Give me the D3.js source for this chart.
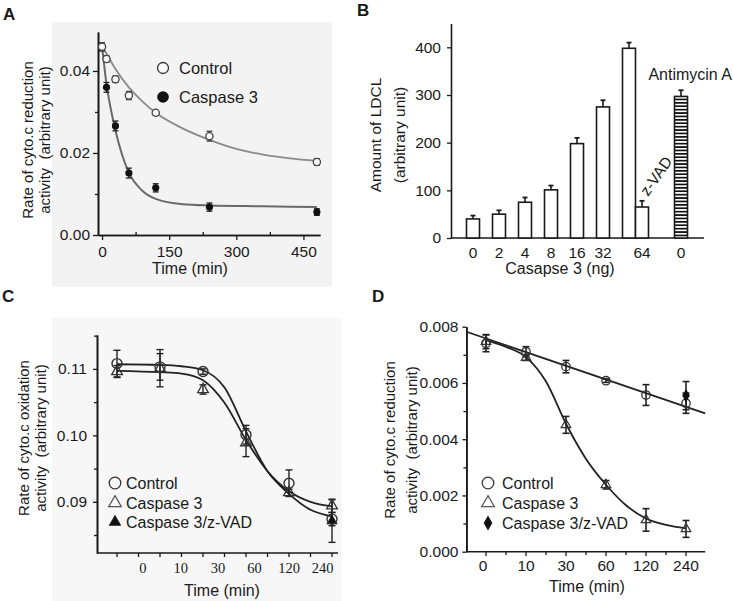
<!DOCTYPE html>
<html><head><meta charset="utf-8">
<script src="https://cdn.jsdelivr.net/npm/d3@7"></script>
<style>
body{margin:0;background:#fff}
svg{display:block;font-family:"Liberation Sans",Arial,sans-serif}
text{white-space:pre}
</style>
</head><body><script>
// ---------------- Panel A data ----------------
const timeA = [0, 10, 30, 60, 120, 240, 480];
const controlA = [0.0459, 0.0429, 0.0380, 0.0340, 0.0298, 0.0241, 0.0178];
const controlAErr = [0.0010, 0.0008, 0.0008, 0.0010, 0.0005, 0.0012, 0.0008];
const caspaseA = [0.0459, 0.0360, 0.0266, 0.0151, 0.0115, 0.0068, 0.0056];
const caspaseAErr = [0.0010, 0.0012, 0.0012, 0.0012, 0.0010, 0.0010, 0.0008];
const controlFitT = [0, 30, 60, 90, 120, 180, 240, 300, 360, 420, 480];
const controlFitA = [0.0462, 0.0405, 0.0360, 0.0326, 0.0298, 0.0260, 0.0232, 0.0210, 0.0196, 0.0187, 0.0181];
const caspaseFitT = [0, 10, 20, 30, 45, 60, 90, 120, 180, 240, 360, 480];
const caspaseFitA = [0.0462, 0.0368, 0.0305, 0.0255, 0.0195, 0.0152, 0.0108, 0.0088, 0.0075, 0.0072, 0.0070, 0.0068];
const xTicksA = [0, 150, 300, 450];
const yTicksA = [0, 0.02, 0.04];

// ---------------- Panel B data ----------------
const barNames = ["0", "2", "4", "8", "16", "32", "64", "z-VAD", "Antimycin A"];
const barValues = [40, 50, 75, 101, 198, 275, 398, 65, 297];
const barErrors = [7, 8, 10, 9, 12, 14, 12, 13, 13];
const doseLabels = ["0", "2", "4", "8", "16", "32", "64", "0"];
const yTicksB = [0, 100, 200, 300, 400];

// ---------------- Panel C data ----------------
const timeLabelsC = ["0", "10", "30", "60", "120", "240"];
const controlC = [0.1108, 0.1103, 0.1096, 0.1001, 0.0928, 0.0874];
const controlCErr = [0.0020, 0.0020, 0.0004, 0.0014, 0.0020, 0.0010];
const caspaseC = [0.1096, 0.1101, 0.1069, 0.0989, 0.0914, 0.0894];
const caspaseCErr = [0.0009, 0.0028, 0.0007, 0.0021, 0.0005, 0.0010];
const zvadCIndex = [5];
const zvadC = [0.0871];
const zvadCErr = [0.0032];
const controlFitCIdx = [0, 1, 1.5, 2, 2.5, 3, 3.5, 4, 4.5, 5];
const controlFitC = [0.1107, 0.1106, 0.1104, 0.1098, 0.1072, 0.1006, 0.0946, 0.0912, 0.0888, 0.0878];
const caspaseFitC = [0.1097, 0.1095, 0.1093, 0.1083, 0.1049, 0.0993, 0.0946, 0.0916, 0.0900, 0.0893];
const yTicksC = [0.09, 0.10, 0.11];

// ---------------- Panel D data ----------------
const timeLabelsD = ["0", "10", "30", "60", "120", "240"];
const controlD = [0.00741, 0.00711, 0.00658, 0.00608, 0.00557, 0.00528];
const controlDErr = [0.00030, 0.00018, 0.00022, 0.00006, 0.00037, 0.00036];
const caspaseD = [0.00747, 0.00690, 0.00451, 0.00238, 0.00113, 0.00081];
const caspaseDErr = [0.00025, 0.00010, 0.00030, 0.00015, 0.00040, 0.00030];
const zvadDIndex = [5];
const zvadD = [0.00555];
const zvadDErr = [0.00050];
const controlLineDIdx = [-0.49, 5.48];
const controlLineD = [0.00782, 0.00492];
const caspaseFitDIdx = [0, 0.5, 1, 1.5, 2, 2.5, 3, 3.5, 4, 4.5, 5];
const caspaseFitD = [0.00752, 0.00728, 0.00692, 0.00605, 0.00455, 0.00330, 0.00238, 0.00165, 0.00118, 0.00095, 0.00083];
const yTicksD = [0, 0.002, 0.004, 0.006, 0.008];

// ---------------- drawing ----------------
const INK = "#1a1a1a";
const svg = d3.select("body").append("svg").attr("width", 733).attr("height", 601);
svg.append("rect").attr("width", 733).attr("height", 601).attr("fill", "#fff");

function styleAxis(g, size, family) {
  g.select(".domain").attr("stroke", INK).attr("stroke-width", 1.6);
  g.selectAll(".tick line").attr("stroke", INK).attr("stroke-width", 1.3);
  g.selectAll(".tick text").attr("fill", INK).attr("font-size", size)
    .attr("font-family", family || "Liberation Sans, Arial, sans-serif");
}
function errBar(g, x, y0, y1, cap, color, w) {
  g.append("line").attr("x1", x).attr("x2", x).attr("y1", y0).attr("y2", y1)
    .attr("stroke", color).attr("stroke-width", w);
  [y0, y1].forEach(y => g.append("line").attr("x1", x - cap).attr("x2", x + cap)
    .attr("y1", y).attr("y2", y).attr("stroke", color).attr("stroke-width", w));
}
function yTitle(g, x, y, text, size) {
  g.append("text").attr("transform", `translate(${x},${y}) rotate(-90)`)
    .attr("text-anchor", "middle").attr("dy", "0.35em").attr("font-size", size)
    .attr("fill", INK).text(text);
}
function label(g, x, y, text, size, anchor, weight) {
  return g.append("text").attr("x", x).attr("y", y).attr("font-size", size)
    .attr("text-anchor", anchor || "start").attr("font-weight", weight || "normal")
    .attr("fill", INK).text(text);
}
const sym = (type, size) => d3.symbol().type(type).size(size)();

// ===== Panel A =====
const gA = svg.append("g");
gA.append("rect").attr("x", 52).attr("y", 22).attr("width", 280).attr("height", 265).attr("fill", "#f3f3f3");
const xA = d3.scaleLinear().domain([-9, 487]).range([98, 320]);
const yA = d3.scaleLinear().domain([0, 0.0495]).range([235, 32]);
gA.append("g").attr("transform", "translate(0,235)")
  .call(d3.axisBottom(xA).tickValues([75, 225, 375]).tickSizeInner(-3).tickSizeOuter(0).tickFormat(""))
  .call(g => styleAxis(g, 15.5));
gA.append("g").attr("transform", "translate(0,235)")
  .call(d3.axisBottom(xA).tickValues(xTicksA).tickSizeInner(5).tickSizeOuter(0).tickPadding(6).tickFormat(d3.format("d")))
  .call(g => styleAxis(g, 15.5));
gA.append("g").attr("transform", "translate(98,0)")
  .call(d3.axisLeft(yA).tickValues([0.01, 0.03]).tickSizeInner(3).tickSizeOuter(0).tickFormat(""))
  .call(g => styleAxis(g, 15.5));
gA.append("g").attr("transform", "translate(98,0)")
  .call(d3.axisLeft(yA).tickValues(yTicksA).tickSizeInner(5).tickSizeOuter(0).tickPadding(3).tickFormat(d3.format(".2f")))
  .call(g => styleAxis(g, 15.5));
const lineA = d3.line().x(d => xA(d[0])).y(d => yA(d[1])).curve(d3.curveMonotoneX);
gA.append("path").attr("d", lineA(controlFitT.map((t, i) => [t, controlFitA[i]])))
  .attr("fill", "none").attr("stroke", "#8a8a8a").attr("stroke-width", 1.8);
gA.append("path").attr("d", lineA(caspaseFitT.map((t, i) => [t, caspaseFitA[i]])))
  .attr("fill", "none").attr("stroke", "#6a6a6a").attr("stroke-width", 2);
timeA.forEach((t, i) => {
  errBar(gA, xA(t), yA(caspaseA[i] - caspaseAErr[i]), yA(caspaseA[i] + caspaseAErr[i]), 3, "#222", 1.3);
  gA.append("circle").attr("cx", xA(t)).attr("cy", yA(caspaseA[i])).attr("r", 3.6).attr("fill", "#111");
});
timeA.forEach((t, i) => {
  errBar(gA, xA(t), yA(controlA[i] - controlAErr[i]), yA(controlA[i] + controlAErr[i]), 3, "#444", 1.3);
  gA.append("circle").attr("cx", xA(t)).attr("cy", yA(controlA[i])).attr("r", 3.6)
    .attr("fill", "#fafafa").attr("stroke", "#444").attr("stroke-width", 1.3);
});
gA.append("circle").attr("cx", 163).attr("cy", 68).attr("r", 5.5).attr("fill", "#fafafa").attr("stroke", "#333").attr("stroke-width", 1.3);
label(gA, 179, 74, "Control", 16.5);
gA.append("circle").attr("cx", 163).attr("cy", 97).attr("r", 5.8).attr("fill", "#111");
label(gA, 179, 103, "Caspase 3", 16.5);
yTitle(gA, 28, 140, "Rate of cyto.c reduction", 15);
yTitle(gA, 45, 140, "activity  (arbitrary unit)", 15);
label(gA, 190, 274, "Time (min)", 16, "middle");
label(gA, 3, 20, "A", 17, "start", "bold");

// ===== Panel B =====
const gB = svg.append("g");
const defs = svg.append("defs");
const pat = defs.append("pattern").attr("id", "hatch").attr("patternUnits", "userSpaceOnUse")
  .attr("width", 10).attr("height", 3.4);
pat.append("rect").attr("width", 10).attr("height", 3.4).attr("fill", "#fff");
pat.append("rect").attr("width", 10).attr("height", 1.7).attr("fill", "#111");
const slotB = d3.scaleLinear().domain([0, 1]).range([473, 499]);
const barW = 13;
const barSlots = barNames.map((n, i) => i < 7 ? i : (i === 7 ? 6 + barW / 26 : 8));
const yB = d3.scaleLinear().domain([0, 450]).range([238, 23.5]);
gB.append("g").attr("transform", "translate(451,0)")
  .call(d3.axisLeft(yB).tickValues(yTicksB).tickSizeInner(4).tickSizeOuter(0).tickPadding(6))
  .call(g => styleAxis(g, 15.5));
gB.append("line").attr("x1", 451).attr("x2", 704).attr("y1", 238).attr("y2", 238)
  .attr("stroke", INK).attr("stroke-width", 1.6);
barNames.forEach((n, i) => {
  const cx = slotB(barSlots[i]);
  errBar(gB, cx, yB(barValues[i]), yB(barValues[i] + barErrors[i]), 0, INK, 1.6);
  gB.append("line").attr("x1", cx - 2.5).attr("x2", cx + 2.5)
    .attr("y1", yB(barValues[i] + barErrors[i])).attr("y2", yB(barValues[i] + barErrors[i]))
    .attr("stroke", INK).attr("stroke-width", 1.8);
  gB.append("rect").attr("x", cx - barW / 2).attr("y", yB(barValues[i]))
    .attr("width", barW).attr("height", yB(0) - yB(barValues[i]))
    .attr("fill", n === "Antimycin A" ? "url(#hatch)" : "#fff")
    .attr("stroke", INK).attr("stroke-width", 1.6);
});
const labelSlots = [0, 1, 2, 3, 4, 5, 6.5, 8];
doseLabels.forEach((d, i) => label(gB, slotB(labelSlots[i]), 258, d, 15.5, "middle"));
label(gB, 732, 80, barNames[8], 16, "end");
gB.append("text").attr("transform", "translate(656,176) rotate(-55)").attr("text-anchor", "middle")
  .attr("dy", "0.35em").attr("font-size", 15.5).attr("fill", INK).text(barNames[7]);
yTitle(gB, 376, 135, "Amount of LDCL", 15.5);
yTitle(gB, 400, 135, "(arbitrary unit)", 15.5);
label(gB, 560, 274, "Casapse 3 (ng)", 16, "middle");
label(gB, 357, 16, "B", 17, "start", "bold");

// ===== Panel C =====
const gC = svg.append("g");
gC.append("rect").attr("x", 52).attr("y", 318).attr("width", 290).attr("height", 283).attr("fill", "#f7f7f7");
const xC = d3.scaleLinear().domain([0, 5]).range([117, 332]);
const yC = d3.scaleLinear().domain([0.0823, 0.1151]).range([553, 335]);
const axisEndC = xC.invert(338);
gC.append("line").attr("x1", xC(-0.465)).attr("x2", 338).attr("y1", 553).attr("y2", 553)
  .attr("stroke", INK).attr("stroke-width", 1.6);
d3.range(0, axisEndC, 0.5).forEach(v => gC.append("line").attr("x1", xC(v)).attr("x2", xC(v))
  .attr("y1", 553).attr("y2", 557).attr("stroke", INK).attr("stroke-width", 1.3));
const tickPosC = [0.6, 1.48, 2.35, 3.2, 4.0, 4.78];
timeLabelsC.forEach((t, i) => label(gC, xC(tickPosC[i]), 573, t, 14.5, "middle")
  .attr("font-family", "Liberation Serif, Times New Roman, serif"));
gC.append("g").attr("transform", "translate(97,0)")
  .call(d3.axisLeft(yC).tickValues([0.085, 0.095, 0.105, 0.115]).tickSizeInner(3).tickSizeOuter(0).tickFormat(""))
  .call(g => styleAxis(g, 15.5));
gC.append("g").attr("transform", "translate(97,0)")
  .call(d3.axisLeft(yC).tickValues(yTicksC).tickSizeInner(4).tickSizeOuter(0).tickPadding(6).tickFormat(d3.format(".2f")))
  .call(g => styleAxis(g, 15.5));
const lineC = d3.line().x(d => xC(d[0])).y(d => yC(d[1])).curve(d3.curveMonotoneX);
gC.append("path").attr("d", lineC(controlFitCIdx.map((t, i) => [t, controlFitC[i]])))
  .attr("fill", "none").attr("stroke", "#222").attr("stroke-width", 1.8);
gC.append("path").attr("d", lineC(controlFitCIdx.map((t, i) => [t, caspaseFitC[i]])))
  .attr("fill", "none").attr("stroke", "#222").attr("stroke-width", 1.8);
timeLabelsC.forEach((t, i) => {
  errBar(gC, xC(i), yC(caspaseC[i] - caspaseCErr[i]), yC(caspaseC[i] + caspaseCErr[i]), 3.5, "#222", 1.4);
  errBar(gC, xC(i), yC(controlC[i] - controlCErr[i]), yC(controlC[i] + controlCErr[i]), 3.5, "#222", 1.4);
});
zvadCIndex.forEach((k, i) => {
  errBar(gC, xC(k), yC(zvadC[i] - zvadCErr[i]), yC(zvadC[i] + zvadCErr[i]), 3.5, "#222", 1.4);
  gC.append("path").attr("d", sym(d3.symbolTriangle, 55)).attr("transform", `translate(${xC(k)},${yC(zvadC[i])})`)
    .attr("fill", "#111");
});
timeLabelsC.forEach((t, i) => {
  gC.append("circle").attr("cx", xC(i)).attr("cy", yC(controlC[i])).attr("r", 5)
    .attr("fill", "none").attr("stroke", "#333").attr("stroke-width", 1.4);
  gC.append("path").attr("d", sym(d3.symbolTriangle, 50)).attr("transform", `translate(${xC(i)},${yC(caspaseC[i])})`)
    .attr("fill", "none").attr("stroke", "#333").attr("stroke-width", 1.3);
});
gC.append("circle").attr("cx", 115).attr("cy", 483).attr("r", 5.8).attr("fill", "none").attr("stroke", "#333").attr("stroke-width", 1.3);
label(gC, 126, 489, "Control", 16);
gC.append("path").attr("d", sym(d3.symbolTriangle, 70)).attr("transform", "translate(115,503)")
  .attr("fill", "none").attr("stroke", "#555").attr("stroke-width", 1.2);
label(gC, 126, 509, "Caspase 3", 16);
gC.append("path").attr("d", sym(d3.symbolTriangle, 70)).attr("transform", "translate(115,522)").attr("fill", "#111");
label(gC, 126, 528, "Caspase 3/z-VAD", 16);
yTitle(gC, 24, 438, "Rate of cyto.c oxidation", 15);
yTitle(gC, 41, 438, "activity  (arbitrary unit)", 15);
label(gC, 222, 596, "Time (min)", 16, "middle");
label(gC, 2, 302, "C", 17, "start", "bold");

// ===== Panel D =====
const gD = svg.append("g");
const xD = d3.scaleLinear().domain([0, 5]).range([486, 686]);
const yD = d3.scaleLinear().domain([0, 0.008]).range([551.7, 326.7]);
gD.append("line").attr("x1", xD(-0.49)).attr("x2", xD(5.48)).attr("y1", 551.7).attr("y2", 551.7)
  .attr("stroke", INK).attr("stroke-width", 1.6);
d3.range(0, 5.01, 0.5).forEach(v => gD.append("line").attr("x1", xD(v)).attr("x2", xD(v))
  .attr("y1", 551.7).attr("y2", Number.isInteger(v) ? 556 : 555).attr("stroke", INK).attr("stroke-width", 1.3));
timeLabelsD.forEach((t, i) => label(gD, xD(i) - (i === 0 ? 3 : 0), 571, t, 15.5, "middle"));
gD.append("g").attr("transform", `translate(${xD(-0.49)},0)`)
  .call(d3.axisLeft(yD).tickValues(d3.range(0.001, 0.008, 0.002)).tickSizeInner(3).tickSizeOuter(0).tickFormat(""))
  .call(g => styleAxis(g, 15.5));
gD.append("g").attr("transform", `translate(${xD(-0.49)},0)`)
  .call(d3.axisLeft(yD).tickValues(yTicksD).tickSizeInner(4).tickSizeOuter(0).tickPadding(4).tickFormat(d3.format(".3f")))
  .call(g => styleAxis(g, 15.5));
const lineD = d3.line().x(d => xD(d[0])).y(d => yD(d[1]));
gD.append("path").attr("d", lineD(controlLineDIdx.map((t, i) => [t, controlLineD[i]])))
  .attr("fill", "none").attr("stroke", "#222").attr("stroke-width", 1.8);
gD.append("path").attr("d", lineD.curve(d3.curveMonotoneX)(caspaseFitDIdx.map((t, i) => [t, caspaseFitD[i]])))
  .attr("fill", "none").attr("stroke", "#222").attr("stroke-width", 1.8);
timeLabelsD.forEach((t, i) => {
  errBar(gD, xD(i), yD(caspaseD[i] - caspaseDErr[i]), yD(caspaseD[i] + caspaseDErr[i]), 3.5, "#222", 1.6);
  errBar(gD, xD(i), yD(controlD[i] - controlDErr[i]), yD(controlD[i] + controlDErr[i]), 3.5, "#222", 1.6);
});
zvadDIndex.forEach((k, i) => {
  errBar(gD, xD(k), yD(zvadD[i] - zvadDErr[i]), yD(zvadD[i] + zvadDErr[i]), 3.5, "#222", 1.6);
});
timeLabelsD.forEach((t, i) => {
  gD.append("circle").attr("cx", xD(i)).attr("cy", yD(controlD[i])).attr("r", 4.2)
    .attr("fill", "none").attr("stroke", "#333").attr("stroke-width", 1.3);
  gD.append("path").attr("d", sym(d3.symbolTriangle, 40)).attr("transform", `translate(${xD(i)},${yD(caspaseD[i])})`)
    .attr("fill", "none").attr("stroke", "#333").attr("stroke-width", 1.2);
});
zvadDIndex.forEach((k, i) => {
  gD.append("path").attr("d", sym(d3.symbolDiamond, 50)).attr("transform", `translate(${xD(k)},${yD(zvadD[i])})`)
    .attr("fill", "#111");
});
gD.append("circle").attr("cx", 488).attr("cy", 483).attr("r", 5.8).attr("fill", "none").attr("stroke", "#333").attr("stroke-width", 1.3);
label(gD, 502, 489, "Control", 16);
gD.append("path").attr("d", sym(d3.symbolTriangle, 70)).attr("transform", "translate(488,503)")
  .attr("fill", "none").attr("stroke", "#555").attr("stroke-width", 1.2);
label(gD, 502, 509, "Caspase 3", 16);
gD.append("path").attr("d", sym(d3.symbolDiamond, 65)).attr("transform", "translate(488,523)").attr("fill", "#111");
label(gD, 502, 529, "Caspase 3/z-VAD", 16);
yTitle(gD, 390, 440, "Rate of cyto.c reduction", 15);
yTitle(gD, 412, 440, "activity  (arbitrary unit)", 15);
label(gD, 587, 592, "Time (min)", 16, "middle");
label(gD, 372, 302, "D", 17, "start", "bold");
</script></body></html>
